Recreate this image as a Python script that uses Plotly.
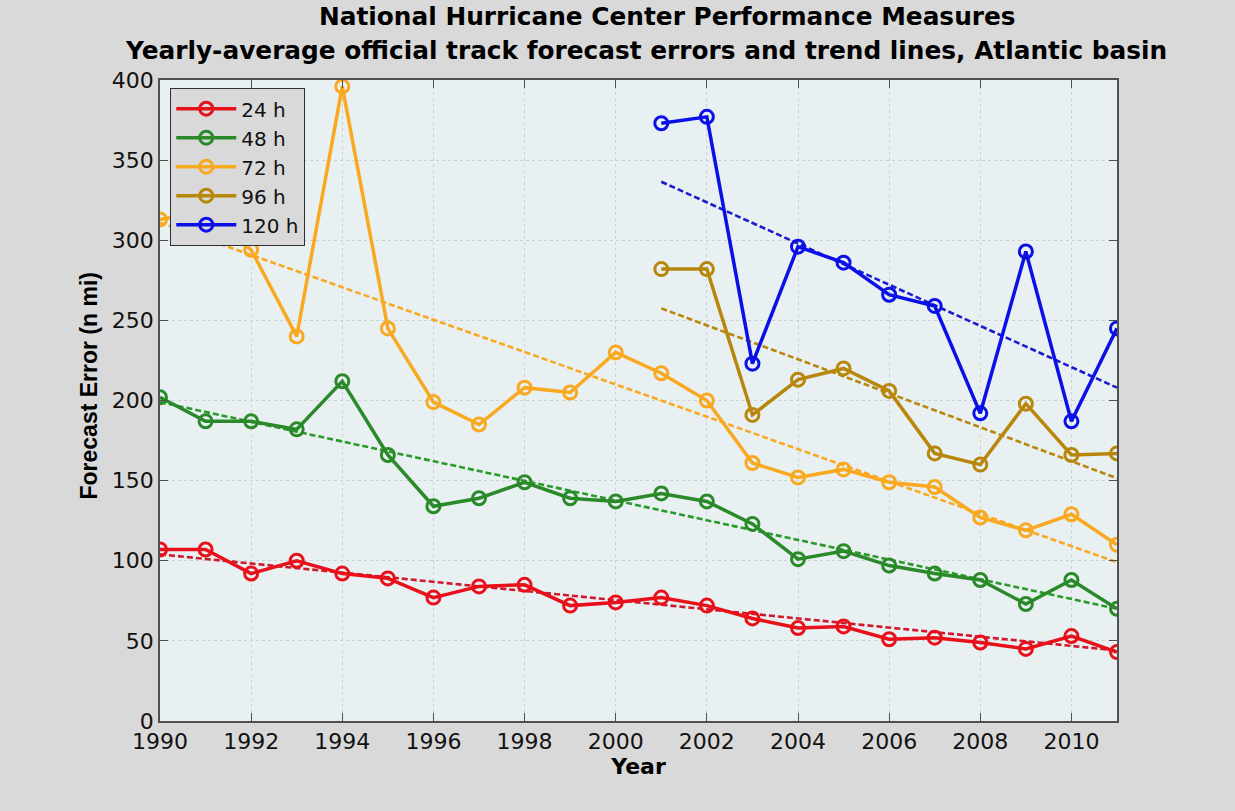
import plotly.graph_objects as go

years = list(range(1990, 2012))
years_late = list(range(2001, 2012))

err_24h = [107, 107, 92, 100, 92, 89, 77, 84, 85, 72, 74, 77, 72, 64, 58, 59, 51, 52, 49, 45, 53, 43]
err_48h = [202, 187, 187, 182, 212, 166, 134, 139, 149, 139, 137, 142, 137, 123, 101, 106, 97, 92, 88, 73, 88, 70]
err_72h = [313, 318, 294, 240, 396, 245, 199, 185, 208, 205, 230, 217, 200, 161, 152, 157, 149, 146, 127, 119, 129, 110]
err_96h = [282, 282, 191, 213, 220, 206, 167, 160, 198, 166, 167]
err_120h = [373, 377, 223, 296, 286, 266, 259, 192, 293, 187, 245]

# trend-line endpoints
trend_x_full = [1990, 2011]
trend_x_late = [2001, 2011]
trend_24h = [104, 44]
trend_48h = [199, 70]
trend_72h = [311, 99]
trend_96h = [257.5, 151.5]
trend_120h = [336.5, 208]

labels = ["24 h", "48 h", "72 h", "96 h", "120 h"]
colors = ["#e8101a", "#2a8a2a", "#f9a920", "#b8860b", "#0a10e6"]
trend_colors = ["#d0182a", "#2a9a2a", "#f9a920", "#b8860b", "#1a1ad0"]

title_line1 = "National Hurricane Center Performance Measures"
title_line2 = "Yearly-average official track forecast errors and trend lines, Atlantic basin"
x_title = "Year"
y_title = "Forecast Error (n mi)"

series = [
    (years, err_24h, trend_x_full, trend_24h),
    (years, err_48h, trend_x_full, trend_48h),
    (years, err_72h, trend_x_full, trend_72h),
    (years_late, err_96h, trend_x_late, trend_96h),
    (years_late, err_120h, trend_x_late, trend_120h),
]

FONT = "DejaVu Sans, Verdana, sans-serif"
FONT_NARROW = "Liberation Sans, Arial, sans-serif"

fig = go.Figure()

for (xs, ys, tx, ty), c in zip(series, trend_colors):
    fig.add_trace(go.Scatter(
        x=tx, y=ty, mode="lines", showlegend=False, hoverinfo="skip",
        line=dict(color=c, width=2.6, dash="6px,3px"),
    ))

for (xs, ys, tx, ty), lab, c in zip(series, labels, colors):
    fig.add_trace(go.Scatter(
        x=xs, y=ys, mode="lines+markers", name=lab,
        line=dict(color=c, width=3.5),
        marker=dict(symbol="circle-open", size=13, color=c, line=dict(width=3, color=c)),
    ))

axis_common = dict(
    showline=True, linecolor="#505050", linewidth=1.5, mirror="allticks",
    ticks="inside", ticklen=8, tickcolor="#505050", tickwidth=1.2,
    showgrid=True, gridcolor="#cbd2d4", griddash="dot", gridwidth=1,
    zeroline=False,
    tickfont=dict(family=FONT, size=22, color="#111111"),
)

fig.update_layout(
    width=1235, height=811,
    paper_bgcolor="#d9d9d9", plot_bgcolor="#e8f0f2",
    margin=dict(l=160, r=118, t=80, b=90),
    xaxis=dict(
        range=[1990, 2011], dtick=2, tick0=1990,
        title=dict(text="<b>" + x_title + "</b>", standoff=4,
                   font=dict(family=FONT, size=22, color="#000000")),
        **axis_common,
    ),
    yaxis=dict(
        range=[0, 400], dtick=50, tick0=0,
        **axis_common,
    ),
    legend=dict(
        x=0.0105, y=0.9875, xanchor="left", yanchor="top",
        bgcolor="#d9d9d9", bordercolor="#303030", borderwidth=1.2,
        font=dict(family=FONT, size=20, color="#111111"),
        itemwidth=60, tracegroupgap=0,
    ),
    showlegend=True,
    annotations=[
        dict(text="<b>" + title_line1 + "</b>", xref="paper", yref="paper",
             x=0.5308, y=1.099, xanchor="center", yanchor="middle", showarrow=False,
             font=dict(family=FONT, size=24.8, color="#000000")),
        dict(text="<b>" + title_line2 + "</b>", xref="paper", yref="paper",
             x=0.5078, y=1.0468, xanchor="center", yanchor="middle", showarrow=False,
             font=dict(family=FONT, size=24.8, color="#000000")),
        dict(text="<b>" + y_title + "</b>", xref="paper", yref="paper",
             x=-0.0752, y=0.5234, xanchor="center", yanchor="middle", showarrow=False,
             textangle=-90,
             font=dict(family=FONT_NARROW, size=23, color="#000000")),
    ],
)

fig.write_html(
    "out.html",
    config={"displayModeBar": False},
    post_script="document.body.style.margin='0';document.body.style.overflow='hidden';",
)
